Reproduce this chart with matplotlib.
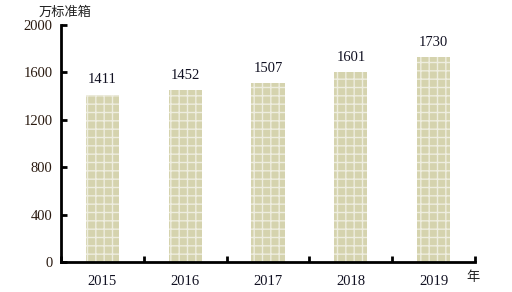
import matplotlib
matplotlib.use("Agg")
import matplotlib.pyplot as plt
import numpy as np

years = ["2015", "2016", "2017", "2018", "2019"]
values = [1411, 1452, 1507, 1601, 1730]
yticks = [0, 400, 800, 1200, 1600, 2000]

plt.rcParams['font.family'] = ['Liberation Serif', 'Noto Sans CJK SC', 'DejaVu Sans']
plt.rcParams['hatch.linewidth'] = 1.0

fig = plt.figure(figsize=(5.12, 2.92), dpi=100)
ax = fig.add_axes([0.119, 0.1027, 0.809, 0.8117])

x = np.arange(len(years))
bars = ax.bar(x, values, width=0.4, color='#d5d3ae', edgecolor='#eeeddf', linewidth=0, hatch='++')
for xi, v in zip(x, values):
    ax.annotate(str(v), (xi, v), xytext=(0, 6), textcoords='offset points',
                ha='center', va='bottom', fontsize=10.5, color='#111122')

ax.set_xlim(-0.5, len(years) - 0.5)
ax.set_ylim(0, 2000)
ax.set_yticks(yticks)
ax.set_yticklabels([str(t) for t in yticks], fontsize=10.5, color='#2a1a10')
ax.set_xticks(x)
ax.set_xticklabels(years, fontsize=10.5, color='#111122')
ax.set_xticks(np.arange(-0.5, len(years)), minor=True)
ax.tick_params(axis='x', which='major', length=0, pad=9)
ax.tick_params(axis='x', which='minor', direction='in', length=4, width=2, color='black')
ax.tick_params(axis='y', direction='in', length=4, width=2, pad=6)
for s in ['top', 'right']:
    ax.spines[s].set_visible(False)
for s in ['left', 'bottom']:
    ax.spines[s].set_linewidth(2)

fig.text(65/512, 1 - 12/292, '万标准箱', ha='center', va='center', fontsize=9.5,
         family=['Noto Sans CJK SC'], color='#222222')
fig.text(473/512, 1 - 278/292, '年', ha='center', va='center', fontsize=9.5,
         family=['Noto Sans CJK SC'], color='#222222')

fig.savefig('out.png', dpi=100)
